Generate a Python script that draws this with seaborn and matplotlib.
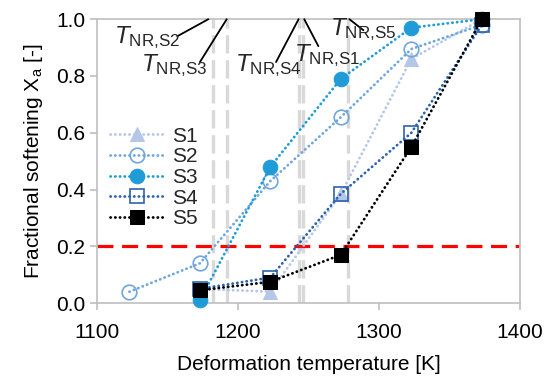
import numpy as np
import pandas as pd
import seaborn as sns
import matplotlib.pyplot as plt

# data
temps = [1123, 1173, 1223, 1273, 1323, 1373]
s1 = [np.nan, 0.05, 0.04, 0.385, 0.86, 1.00]
s2 = [0.04, 0.14, 0.43, 0.655, 0.895, 0.98]
s3 = [np.nan, 0.01, 0.48, 0.79, 0.97, 1.00]
s4 = [np.nan, 0.05, 0.09, 0.385, 0.60, 0.98]
s5 = [np.nan, 0.045, 0.075, 0.17, 0.55, 1.00]
series_names = ['S1', 'S2', 'S3', 'S4', 'S5']

# recrystallisation-start temperatures (crossing of Xa = 0.2)
t_nr = {'S2': 1182, 'S3': 1192, 'S4': 1243, 'S1': 1246, 'S5': 1278}
threshold = 0.2

df = pd.DataFrame({'T': temps, 'S1': s1, 'S2': s2, 'S3': s3, 'S4': s4, 'S5': s5})

sns.set_style('white')
plt.rcParams['font.family'] = ['Liberation Sans', 'DejaVu Sans']
plt.rcParams['mathtext.fontset'] = 'custom'
plt.rcParams['mathtext.rm'] = 'Liberation Sans'
plt.rcParams['mathtext.it'] = 'Liberation Sans:italic'

fig, ax = plt.subplots(figsize=(5.45, 3.76), dpi=100)
fig.subplots_adjust(left=0.178, right=0.954, bottom=0.194, top=0.949)

# grey dashed verticals at T_NR
for name, t in t_nr.items():
    ax.axvline(t, color='#d9d9d9', lw=2.4, dashes=(5.5, 2), zorder=1)

ax.axhline(threshold, color='#ff0000', lw=2.3, dashes=(5, 2.7), zorder=2)

styles = {
    'S1': dict(color='#b4c7e7', marker='^', markerfacecolor='#b4c7e7', markeredgecolor='#b4c7e7'),
    'S2': dict(color='#6fa6dd', marker='o', markerfacecolor='none', markeredgecolor='#6fa6dd', markeredgewidth=1.2),
    'S3': dict(color='#1f9bd7', marker='o', markerfacecolor='#1f9bd7', markeredgecolor='#1f9bd7'),
    'S4': dict(color='#2e62ad', marker='s', markerfacecolor='none', markeredgecolor='#2e62ad', markeredgewidth=1.2),
    'S5': dict(color='black', marker='s', markerfacecolor='black', markeredgecolor='black'),
}

for i, name in enumerate(series_names):
    d = df[['T', name]].dropna()
    sns.lineplot(data=d, x='T', y=name, ax=ax, label=name, linewidth=2.0,
                 linestyle=(0, (0.1, 1.6)), dash_capstyle='round',
                 markersize=10.5, clip_on=False, zorder=3 + i, **styles[name])

ax.set_xlim(1100, 1400)
ax.set_ylim(0, 1.0)
ax.set_xticks([1100, 1200, 1300, 1400])
ax.set_yticks(np.arange(0, 1.01, 0.2))
ax.set_yticklabels([f'{v:.1f}' for v in np.arange(0, 1.01, 0.2)])
ax.set_xlabel('Deformation temperature [K]', fontsize=15, color='black', labelpad=10)
ax.set_ylabel(r'Fractional softening X$_\mathregular{a}$ [-]', fontsize=15, color='black', labelpad=8)
ax.tick_params(axis='both', labelsize=15, colors='black', length=5, width=1.2,
               color='#bfbfbf', direction='out', bottom=True, left=True)
ax.tick_params(axis='x', pad=9)
for sp in ax.spines.values():
    sp.set_color('#bfbfbf')
    sp.set_linewidth(1.2)

# T_NR labels with leader lines: (label x, label y, line start x, line start y, line end x)
labels = {
    'S2': (1112, 0.935, 1157, 0.94, 1179),
    'S3': (1131, 0.835, 1173, 0.849, 1192),
    'S4': (1198, 0.835, 1227, 0.849, 1243),
    'S1': (1240, 0.872, 1257, 0.905, 1247),
    'S5': (1265, 0.962, 1289, 0.961, 1279),
}
for name, (lx, ly, x0, y0, x1) in labels.items():
    ax.text(lx, ly, r'$T_\mathregular{NR{,}' + name + '}$', fontsize=17.5,
            ha='left', va='center', zorder=10)
    ax.annotate('', xy=(x1, 1.0), xytext=(x0, y0),
                arrowprops=dict(arrowstyle='-', color='black', lw=1.3,
                                shrinkA=0, shrinkB=0), annotation_clip=False)

leg = ax.legend(loc='upper left', bbox_to_anchor=(0.0, 0.665), frameon=False,
                fontsize=15, handlelength=2.6, handletextpad=0.4,
                labelspacing=0.08, borderaxespad=0.2)

fig.savefig('out.png', dpi=100)
